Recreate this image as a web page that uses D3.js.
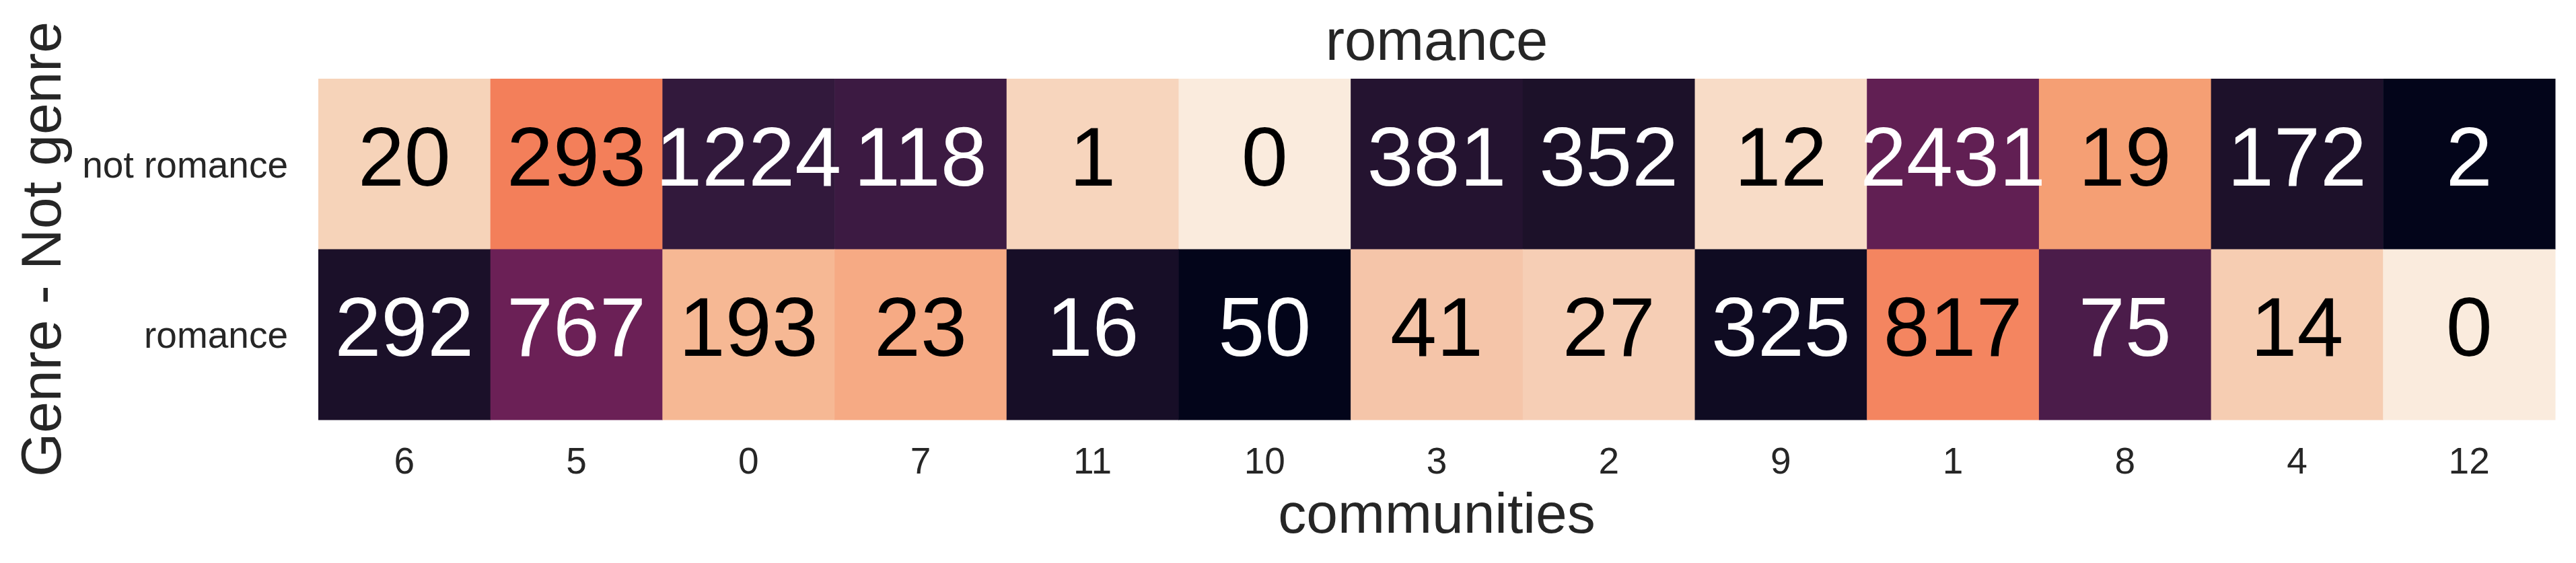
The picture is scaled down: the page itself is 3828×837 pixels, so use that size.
<!DOCTYPE html>
<html>
<head>
<meta charset="utf-8">
<script src="https://cdn.jsdelivr.net/npm/d3@7"></script>
<style>
  html, body { margin: 0; padding: 0; background: #ffffff; }
  svg { display: block; }
  text { font-family: "Liberation Sans", Arial, Helvetica, sans-serif; }
</style>
</head>
<body>
<svg id="chart" width="3828" height="837"></svg>
<script>
// ---- data ----
const communities = ["6", "5", "0", "7", "11", "10", "3", "2", "9", "1", "8", "4", "12"];
const rowLabels = ["not romance", "romance"];
const notRomance = [20, 293, 1224, 118, 1, 0, 381, 352, 12, 2431, 19, 172, 2];
const romance = [292, 767, 193, 23, 16, 50, 41, 27, 325, 817, 75, 14, 0];
const titleText = "romance";
const xLabelText = "communities";
const yLabelText = "Genre - Not genre";

// ---- colormap (seaborn "rocket", sampled) ----
const rocketStops = [0, 0.036, 0.059, 0.064, 0.071, 0.097, 0.136, 0.163, 0.202, 0.252, 0.276,
  0.429, 0.571, 0.724, 0.748, 0.798, 0.837, 0.864, 0.903, 0.925, 0.929, 0.936, 0.941, 0.964, 1];
const rocketColors = ["#03051a", "#0f0b22", "#170e27", "#1b1029", "#1c1129", "#241330", "#32193c",
  "#3c1a42", "#4b1c4a", "#611f53", "#6b2056", "#ad1759", "#e13342", "#f37f5a", "#f48560",
  "#f59f74", "#f6aa84", "#f6b894", "#f5c5a9", "#f6cdb2", "#f6ceb5", "#f6d3b9", "#f7d5bd",
  "#f8dcc7", "#faebdd"];
const rocket = d3.scaleLinear().domain(rocketStops).range(rocketColors)
  .interpolate(d3.interpolateRgb).clamp(true);

// ---- layout ----
const mLeft = 473, mRight = 3797, mTop = 117, mBottom = 624;
const svg = d3.select("#chart");

const x = d3.scaleBand().domain(communities).range([mLeft, mRight]).padding(0);
const y = d3.scaleBand().domain(rowLabels).range([mTop, mBottom]).padding(0);

const series = [notRomance, romance];
const cells = [];
rowLabels.forEach((r, ri) => {
  communities.forEach((c, ci) => {
    const total = notRomance[ci] + romance[ci];
    const v = series[ri][ci];
    cells.push({ row: r, col: c, value: v, frac: total > 0 ? v / total : 0 });
  });
});

function textColor(fill) {
  const c = d3.rgb(fill);
  const lin = u => { u /= 255; return u <= 0.03928 ? u / 12.92 : Math.pow((u + 0.055) / 1.055, 2.4); };
  const L = 0.2126 * lin(c.r) + 0.7152 * lin(c.g) + 0.0722 * lin(c.b);
  return L > 0.25 ? "#000000" : "#ffffff";
}

const g = svg.append("g");
g.selectAll("rect.cell").data(cells).join("rect")
  .attr("class", "cell")
  .attr("x", d => x(d.col))
  .attr("y", d => y(d.row))
  .attr("width", x.bandwidth() + 0.5)
  .attr("height", y.bandwidth() + 0.5)
  .attr("fill", d => rocket(1 - d.frac));

const numFont = 124;
g.selectAll("text.val").data(cells).join("text")
  .attr("class", "val")
  .attr("x", d => x(d.col) + x.bandwidth() / 2)
  .attr("y", d => y(d.row) + y.bandwidth() / 2 + 0.26 * numFont)
  .attr("text-anchor", "middle")
  .attr("font-size", numFont)
  .attr("fill", d => textColor(rocket(1 - d.frac)))
  .text(d => d.value);

// ---- axes ----
const xAxis = svg.append("g")
  .attr("transform", `translate(0,${mBottom})`)
  .call(d3.axisBottom(x).tickSize(0).tickPadding(0));
xAxis.select(".domain").remove();
xAxis.selectAll("text")
  .attr("y", 80).attr("dy", 0)
  .attr("font-size", 55)
  .attr("fill", "#262626")
  .style("font-family", "\"Liberation Sans\", Arial, sans-serif");

const yAxis = svg.append("g")
  .attr("transform", `translate(${mLeft},0)`)
  .call(d3.axisLeft(y).tickSize(0).tickPadding(0));
yAxis.select(".domain").remove();
yAxis.selectAll("text")
  .attr("x", -45).attr("dy", 0).attr("y", 20)
  .attr("font-size", 55)
  .attr("fill", "#262626")
  .style("font-family", "\"Liberation Sans\", Arial, sans-serif");

// ---- titles ----
const cx = (mLeft + mRight) / 2;
svg.append("text")
  .attr("x", cx).attr("y", 89)
  .attr("text-anchor", "middle")
  .attr("font-size", 85)
  .attr("fill", "#262626")
  .text(titleText);

svg.append("text")
  .attr("x", cx).attr("y", 792)
  .attr("text-anchor", "middle")
  .attr("font-size", 84)
  .attr("fill", "#262626")
  .text(xLabelText);

svg.append("text")
  .attr("transform", `translate(90,${(mTop + mBottom) / 2}) rotate(-90)`)
  .attr("text-anchor", "middle")
  .attr("font-size", 84)
  .attr("fill", "#262626")
  .text(yLabelText);
</script>
</body>
</html>
